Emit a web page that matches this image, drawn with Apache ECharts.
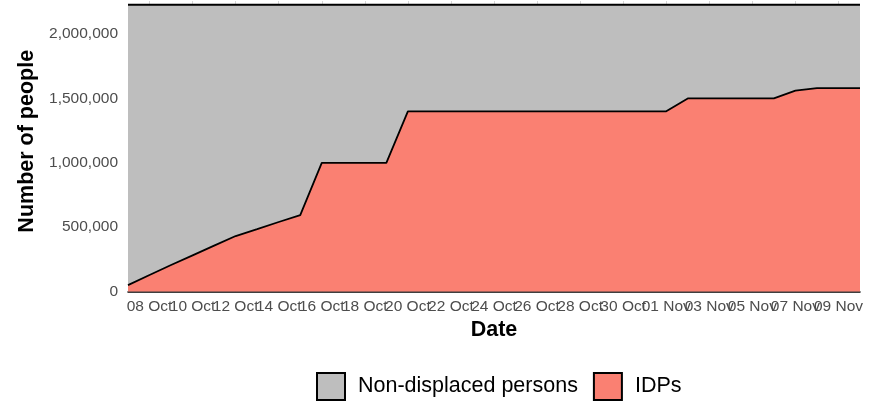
<!DOCTYPE html>
<html><head><meta charset="utf-8">
<script src="https://cdn.jsdelivr.net/npm/echarts@6/dist/echarts.min.js"></script>
<style>html,body{margin:0;padding:0;background:#fff}#c{width:884px;height:401px}</style>
</head><body><div id="c"></div>
<script>
const dates = ["07 Oct","08 Oct","09 Oct","10 Oct","11 Oct","12 Oct","13 Oct","14 Oct","15 Oct","16 Oct","17 Oct","18 Oct","19 Oct","20 Oct","21 Oct","22 Oct","23 Oct","24 Oct","25 Oct","26 Oct","27 Oct","28 Oct","29 Oct","30 Oct","31 Oct","01 Nov","02 Nov","03 Nov","04 Nov","05 Nov","06 Nov","07 Nov","08 Nov","09 Nov","10 Nov"];
const idps = [50000,128000,206000,281000,356000,431000,485000,540000,594000,1000000,1000000,1000000,1000000,1400000,1400000,1400000,1400000,1400000,1400000,1400000,1400000,1400000,1400000,1400000,1400000,1400000,1500000,1500000,1500000,1500000,1500000,1560000,1580000,1580000,1580000];
const totalPopulation = 2228000;
const nonDisplaced = idps.map(v => totalPopulation - v);
const seriesNames = ["Non-displaced persons","IDPs"];
const tickLabels = ["08 Oct","10 Oct","12 Oct","14 Oct","16 Oct","18 Oct","20 Oct","22 Oct","24 Oct","26 Oct","28 Oct","30 Oct","01 Nov","03 Nov","05 Nov","07 Nov","09 Nov"];

const FONT = "'Liberation Sans', Arial, sans-serif";
const chart = echarts.init(document.getElementById('c'), null, {renderer:'canvas'});
chart.setOption({
  animation:false,
  textStyle:{fontFamily:FONT},
  grid:{left:128,right:24,top:1,bottom:109.5},
  legend:{
    data:seriesNames, left:316, top:372, orient:'horizontal', padding:0,
    itemWidth:28, itemHeight:27, itemGap:15,
    icon:'rect',
    textStyle:{fontSize:21.5,color:'#000',fontFamily:FONT,padding:[0,0,0,8]}
  },
  xAxis:{
    type:'category', data:dates, boundaryGap:false,
    name:'Date', nameLocation:'middle', nameGap:26,
    nameTextStyle:{fontSize:21.5,fontWeight:'bold',color:'#000',fontFamily:FONT},
    axisLine:{show:true,lineStyle:{color:'#000',width:1.5}},
    axisTick:{show:false},
    axisLabel:{interval:0, color:'#4D4D4D', fontSize:15.5, margin:7, fontFamily:FONT,
      hideOverlap:false,
      formatter:(v)=>tickLabels.includes(v)?v:''},
    splitLine:{show:true, interval:(i)=>tickLabels.includes(dates[i]), lineStyle:{color:'#D6D6D6',width:1}}
  },
  yAxis:{
    type:'value', min:0, max:2257000, interval:500000,
    name:'Number of people', nameLocation:'middle', nameGap:80, nameRotate:90,
    nameTextStyle:{fontSize:21.5,fontWeight:'bold',color:'#000',fontFamily:FONT,padding:[0,0,0,10]},
    axisLine:{show:false}, axisTick:{show:false},
    axisLabel:{color:'#4D4D4D',fontSize:15.5,margin:10,showMaxLabel:false,fontFamily:FONT,
      formatter:(v)=>v.toLocaleString('en-US')},
    splitLine:{show:false}
  },
  series:[
    {name:'IDPs', type:'line', stack:'pop', data:idps, symbol:'none', z:3,
     itemStyle:{color:'#FA8072',borderColor:'#000',borderWidth:1.5},
     lineStyle:{color:'#000',width:1.8},
     areaStyle:{color:'#FA8072',opacity:1}},
    {name:'Non-displaced persons', type:'line', stack:'pop', data:nonDisplaced, symbol:'none', z:2,
     itemStyle:{color:'#BEBEBE',borderColor:'#000',borderWidth:1.5},
     lineStyle:{color:'#000',width:1.8},
     areaStyle:{color:'#BEBEBE',opacity:1}}
  ]
});
</script></body></html>
